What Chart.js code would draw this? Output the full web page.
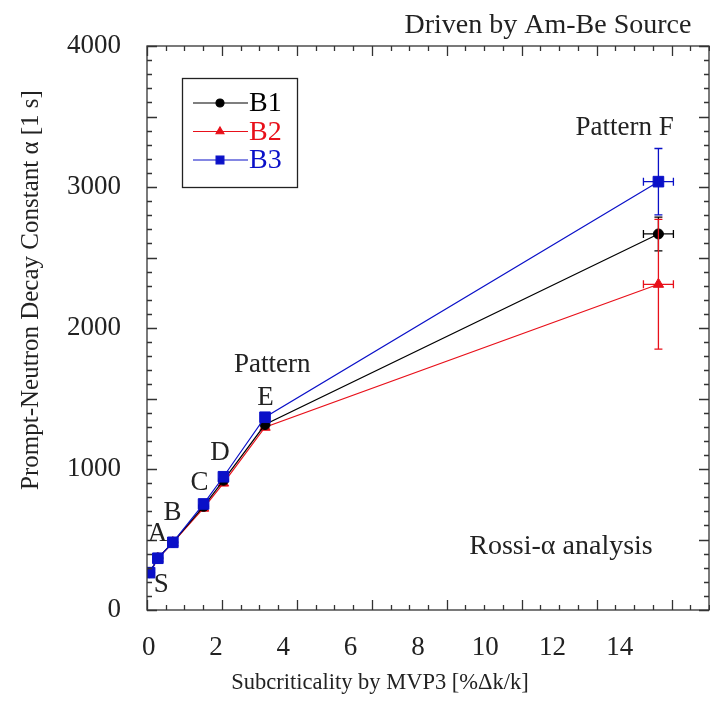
<!DOCTYPE html>
<html>
<head>
<meta charset="utf-8">
<script src="https://cdn.jsdelivr.net/npm/chart.js@4.4.1/dist/chart.umd.min.js"></script>
<style>
  html, body { margin: 0; padding: 0; background: #fff; }
</style>
</head>
<body>
<canvas id="alphaChart" width="710" height="711"></canvas>
<script>
// --- 1. DATA ---
const patterns = ['S', 'A', 'B', 'C', 'D', 'E', 'F'];
const subcriticality = [0.07, 0.29, 0.69, 1.51, 2.04, 3.15, 13.65];   // %dk/k
const subcritErr = [0, 0, 0, 0, 0, 0, 0.4];

const alphaB1 = [265, 368, 480, 735, 920, 1315, 2667];
const alphaB2 = [262, 365, 478, 722, 900, 1296, 2310];
const alphaB3 = [265, 367, 480, 752, 945, 1367, 3038];
const errB1 = [0, 0, 0, 0, 0, 0, 120];
const errB2 = [0, 0, 0, 0, 0, 0, 460];
const errB3 = [0, 0, 0, 0, 0, 0, 235];

const xTickLabels = [0, 2, 4, 6, 8, 10, 12, 14];
const yTickLabels = [0, 1000, 2000, 3000, 4000];

// text notes placed in data units
const notes = [
    { text: 'S', x: 0.38, y: 177 },
    { text: 'A', x: 0.28, y: 539 },
    { text: 'B', x: 0.68, y: 688 },
    { text: 'C', x: 1.40, y: 901 },
    { text: 'D', x: 1.95, y: 1116 },
    { text: 'E', x: 3.16, y: 1504 },
    { text: 'Pattern', x: 3.34, y: 1738 },
    { text: 'Pattern F', x: 12.75, y: 3418 },
    { text: 'Rossi-\u03B1 analysis', x: 11.05, y: 447 }
];

const FONT = "'Liberation Serif', 'Times New Roman', serif";
Chart.defaults.font.family = FONT;
Chart.defaults.color = '#222';

const toPoints = (ys) => subcriticality.map((x, j) => ({ x: x, y: ys[j] }));
const noPad = (s) => { s.paddingLeft = 0; s.paddingRight = 0; s.paddingTop = 0; s.paddingBottom = 0; };

// --- 2. PLUGINS ---
// inward ticks on all four sides + frame
const frameTicks = {
    id: 'frameTicks',
    afterDraw(c) {
        const { ctx, chartArea: a, scales: { x, y } } = c;
        ctx.save();
        ctx.strokeStyle = '#333';
        ctx.lineWidth = 1.3;
        ctx.strokeRect(a.left, a.top, a.right - a.left, a.bottom - a.top);
        ctx.beginPath();
        for (let v = 0; v <= 15.001; v += 0.5) {
            const px = Math.round(x.getPixelForValue(v)) + 0.5;
            const len = Math.abs(v % 2) < 0.01 ? 10 : 5;
            ctx.moveTo(px, a.bottom); ctx.lineTo(px, a.bottom - len);
            ctx.moveTo(px, a.top); ctx.lineTo(px, a.top + len);
        }
        for (let v = 0; v <= 4000; v += 100) {
            const py = Math.round(y.getPixelForValue(v)) + 0.5;
            const len = v % 500 === 0 ? 10 : 5;
            ctx.moveTo(a.left, py); ctx.lineTo(a.left + len, py);
            ctx.moveTo(a.right, py); ctx.lineTo(a.right - len, py);
        }
        ctx.stroke();
        ctx.restore();
    }
};

// x/y error bars with caps
const errorBars = {
    id: 'errorBars',
    afterDatasetsDraw(c) {
        const { ctx, scales: { x, y } } = c;
        ctx.save();
        c.data.datasets.forEach((ds) => {
            ctx.strokeStyle = ds.borderColor;
            ctx.lineWidth = 1.3;
            ds.data.forEach((p, j) => {
                const px = x.getPixelForValue(p.x);
                const py = y.getPixelForValue(p.y);
                const ey = ds.yErr[j], ex = subcritErr[j];
                ctx.beginPath();
                if (ey > 0) {
                    const t = y.getPixelForValue(p.y + ey), b = y.getPixelForValue(p.y - ey);
                    ctx.moveTo(px, t); ctx.lineTo(px, b);
                    ctx.moveTo(px - 4, t); ctx.lineTo(px + 4, t);
                    ctx.moveTo(px - 4, b); ctx.lineTo(px + 4, b);
                }
                if (ex > 0) {
                    const l = x.getPixelForValue(p.x - ex), r = x.getPixelForValue(p.x + ex);
                    ctx.moveTo(l, py); ctx.lineTo(r, py);
                    ctx.moveTo(l, py - 4); ctx.lineTo(l, py + 4);
                    ctx.moveTo(r, py - 4); ctx.lineTo(r, py + 4);
                }
                ctx.stroke();
            });
        });
        ctx.restore();
    }
};

// boxed legend in upper left, titles and notes
const textLayer = {
    id: 'textLayer',
    afterDraw(c) {
        const { ctx, scales: { x, y } } = c;
        ctx.save();

        // legend box
        ctx.strokeStyle = '#222';
        ctx.lineWidth = 1.3;
        ctx.strokeRect(182.5, 78.5, 115, 109);
        c.data.datasets.forEach((ds, i) => {
            const yy = 103 + i * 28.5;
            ctx.strokeStyle = ds.borderColor;
            ctx.fillStyle = ds.borderColor;
            ctx.lineWidth = 1.2;
            ctx.beginPath();
            ctx.moveTo(193, yy); ctx.lineTo(248, yy);
            ctx.stroke();
            Chart.helpers.drawPoint(ctx, { pointStyle: ds.pointStyle, radius: ds.legendRadius, rotation: 0, borderWidth: 1 }, 220, yy);
            ctx.font = '28px ' + FONT;
            ctx.textAlign = 'left';
            ctx.textBaseline = 'middle';
            ctx.fillText(ds.label, 249, yy + 1);
        });

        // notes in data units
        ctx.fillStyle = '#222';
        ctx.textAlign = 'center';
        ctx.textBaseline = 'middle';
        notes.forEach(n => {
            ctx.font = (n.text.length > 9 ? 28 : 27) + 'px ' + FONT;
            ctx.fillText(n.text, x.getPixelForValue(n.x), y.getPixelForValue(n.y));
        });

        // header and axis titles
        ctx.textBaseline = 'alphabetic';
        ctx.font = '28px ' + FONT;
        ctx.fillText('Driven by Am-Be Source', 548, 33);
        ctx.font = '22.5px ' + FONT;
        ctx.fillText('Subcriticality by MVP3 [%\u0394k/k]', 380, 689);
        ctx.font = '25px ' + FONT;
        ctx.translate(38, 290);
        ctx.rotate(-Math.PI / 2);
        ctx.fillText('Prompt-Neutron Decay Constant \u03B1 [1 s]', 0, 0);
        ctx.restore();
    }
};

// --- 3. CHART ---
const ctx = document.getElementById('alphaChart').getContext('2d');
const chart = new Chart(ctx, {
    type: 'line',
    data: {
        labels: patterns,
        datasets: [
            {
                label: 'B1', data: toPoints(alphaB1), yErr: errB1,
                borderColor: '#000000', backgroundColor: '#000000',
                pointStyle: 'circle', pointRadius: 5, legendRadius: 4, order: 2
            },
            {
                label: 'B2', data: toPoints(alphaB2), yErr: errB2,
                borderColor: '#e8101a', backgroundColor: '#e8101a',
                pointStyle: 'triangle', pointRadius: 6, legendRadius: 4.5, order: 3
            },
            {
                label: 'B3', data: toPoints(alphaB3), yErr: errB3,
                borderColor: '#0a10c8', backgroundColor: '#0a10c8',
                pointStyle: 'rect', pointRadius: 7.5, legendRadius: 5.5, order: 1
            }
        ]
    },
    options: {
        responsive: false,
        animation: false,
        elements: {
            line: { borderWidth: 1.2, tension: 0 },
            point: { borderWidth: 1, hoverRadius: 7 }
        },
        layout: { autoPadding: false, padding: { top: 46, right: 1, left: 0, bottom: 0 } },
        plugins: { legend: { display: false }, tooltip: { enabled: false } },
        scales: {
            x: {
                type: 'linear', position: 'bottom', min: 0, max: 15,
                grid: { display: false }, border: { display: false },
                ticks: { display: false },
                afterFit: (s) => { s.height = 0; noPad(s); }
            },
            // label row of the x axis (text in the figure is set on a tighter pitch than its ticks)
            xl: {
                type: 'linear', position: 'bottom', min: -0.05, max: 16.65,
                grid: { display: false }, border: { display: false },
                ticks: {
                    stepSize: 2, includeBounds: false, autoSkip: false, maxRotation: 0, padding: 14,
                    font: { size: 27 }, color: '#222',
                    callback: (v) => xTickLabels.includes(v) ? String(v) : ''
                },
                afterFit: (s) => { s.height = 101; noPad(s); }
            },
            y: {
                min: 0, max: 4000,
                grid: { display: false }, border: { display: false },
                ticks: {
                    stepSize: 1000, padding: 18, font: { size: 27 }, color: '#222',
                    callback: (v) => yTickLabels.includes(v) ? String(v) : ''
                },
                afterFit: (s) => { s.width = 147; noPad(s); }
            }
        }
    },
    plugins: [frameTicks, errorBars, textLayer]
});
</script>
</body>
</html>
